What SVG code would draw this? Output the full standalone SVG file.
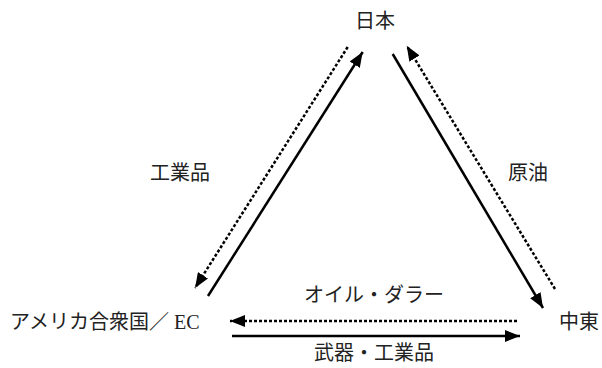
<svg xmlns="http://www.w3.org/2000/svg" width="602" height="368" viewBox="0 0 602 368">
<style>
text{font-family:"Liberation Serif","Noto Sans CJK JP",serif;font-size:20px;fill:#222;}
.s{stroke:#000;stroke-width:2.5;fill:none;marker-end:url(#ah);}
.d{stroke:#000;stroke-width:2.5;fill:none;stroke-dasharray:3 2;marker-end:url(#ah);}
</style>
<defs>
<marker id="ah" markerUnits="userSpaceOnUse" markerWidth="16" markerHeight="12" refX="15" refY="6" orient="auto">
<path d="M0,0 L15,6 L0,12 Z" fill="#000"/>
</marker>
</defs>
<rect width="602" height="368" fill="#fff"/>
<g id="connectors">
<line class="s" x1="208" y1="296" x2="362.7" y2="52"/>
<line class="d" x1="347.7" y1="47" x2="195" y2="288"/>
<line class="s" x1="392.7" y1="54" x2="543" y2="308"/>
<line class="d" x1="555" y1="289" x2="406.7" y2="45.7"/>
<line class="d" x1="517" y1="321" x2="230" y2="321"/>
<line class="s" x1="232" y1="336" x2="520" y2="336"/>
</g>
<g id="japan"><text x="375" y="28" text-anchor="middle">日本</text></g>
<g id="usa-ec"><text x="10" y="329">アメリカ合衆国／ EC</text></g>
<g id="middle-east"><text x="559" y="329">中東</text></g>
<g id="label-industrial"><text x="180" y="180" text-anchor="middle">工業品</text></g>
<g id="label-crude"><text x="528" y="180" text-anchor="middle">原油</text></g>
<g id="label-oil-dollar"><text x="374" y="302" text-anchor="middle">オイル・ダラー</text></g>
<g id="label-arms"><text x="374" y="360" text-anchor="middle">武器・工業品</text></g>
</svg>
